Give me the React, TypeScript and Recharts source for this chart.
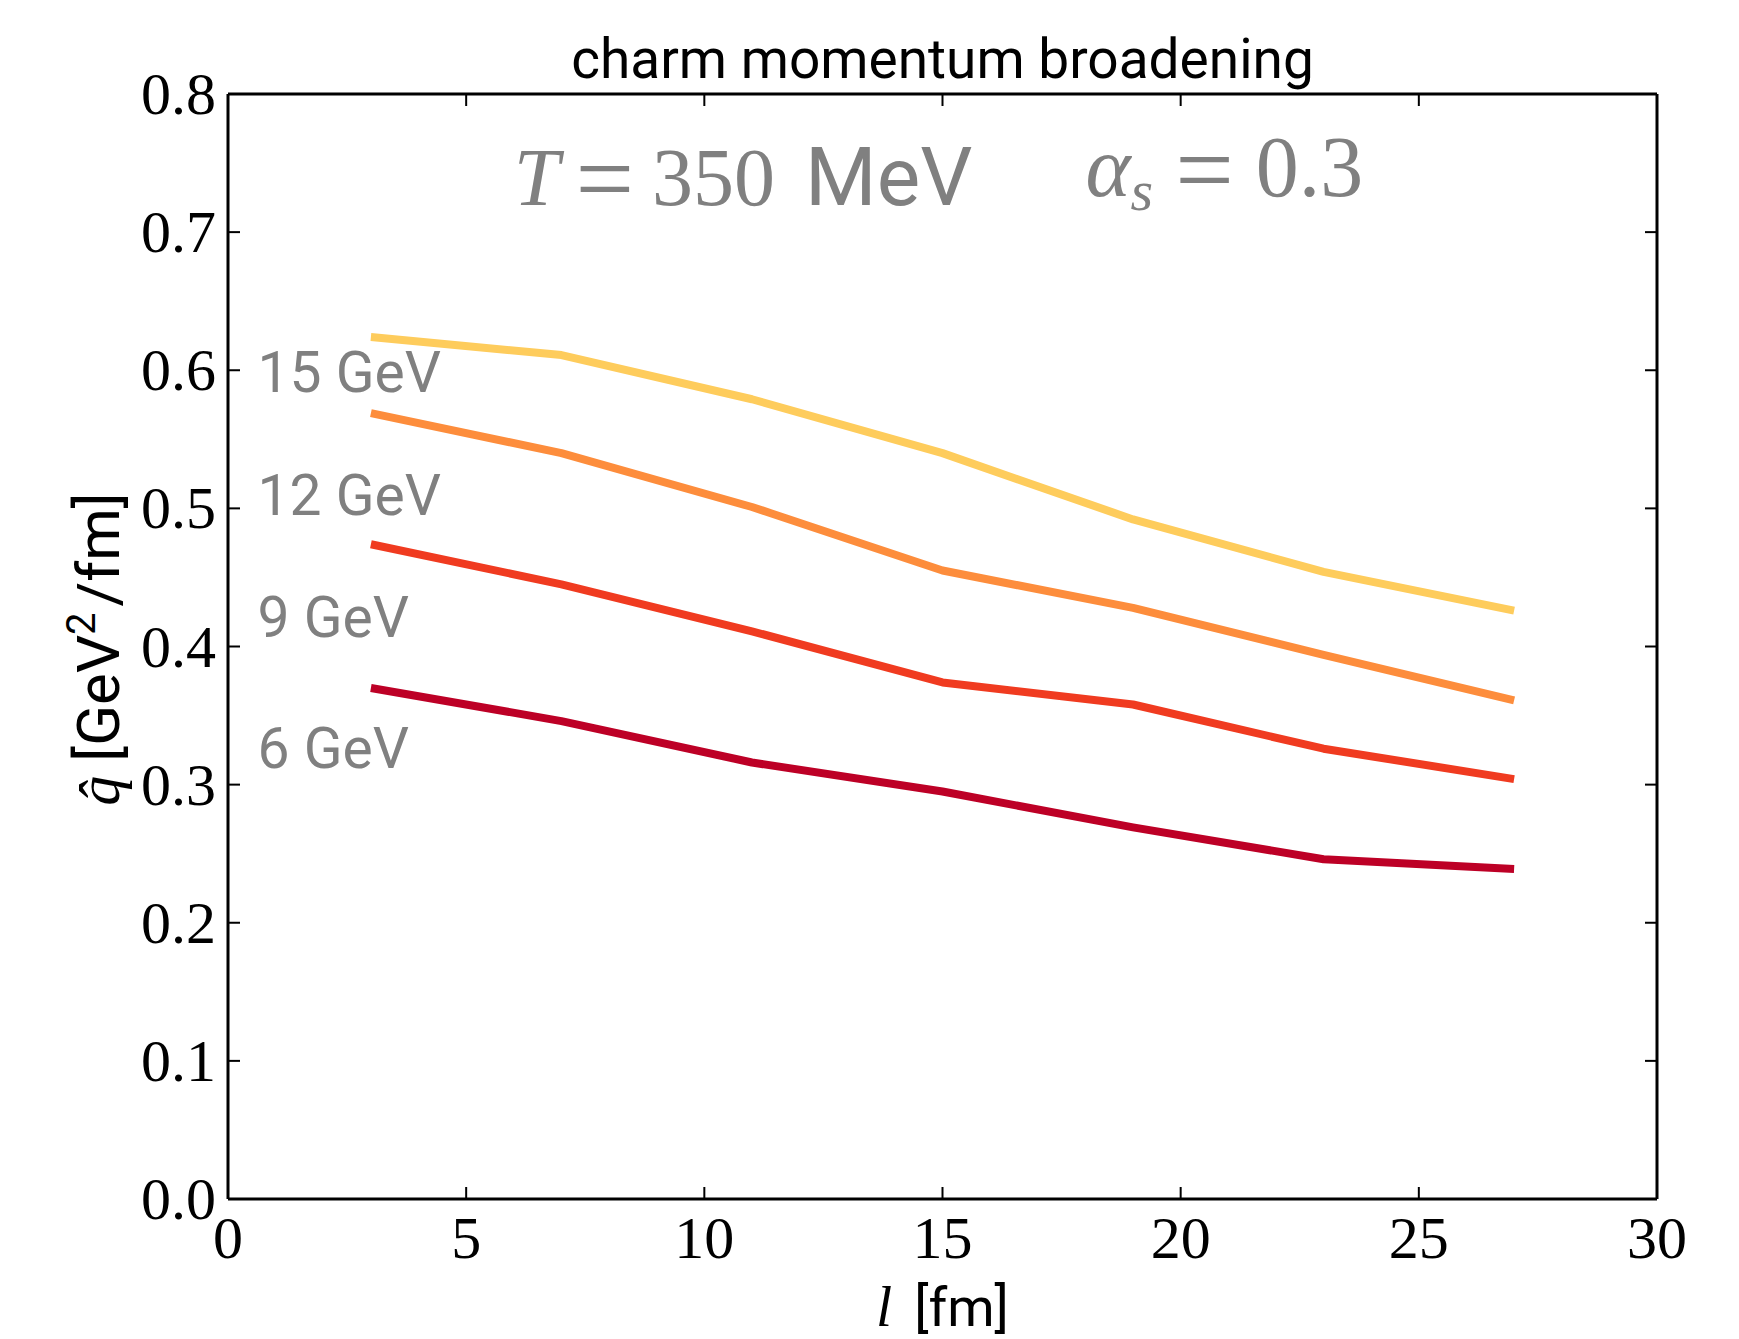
import React from 'react'
import { LineChart, Line, XAxis, YAxis, ReferenceDot, ReferenceLine } from 'recharts'

// path length l [fm]
const lengths = [3, 7, 11, 15, 19, 23, 27]

// qhat [GeV^2/fm] for each charm energy
const qhat6 = [0.370, 0.346, 0.316, 0.295, 0.269, 0.246, 0.239]
const qhat9 = [0.474, 0.445, 0.411, 0.374, 0.358, 0.326, 0.304]
const qhat12 = [0.569, 0.540, 0.501, 0.455, 0.428, 0.394, 0.361]
const qhat15 = [0.624, 0.611, 0.579, 0.540, 0.492, 0.454, 0.426]

const xTicks = [0, 5, 10, 15, 20, 25, 30]
const yTicks = [0, 0.1, 0.2, 0.3, 0.4, 0.5, 0.6, 0.7, 0.8]

// curve labels, anchored in data coordinates
const energyLabels = [
  { text: '15 GeV', x: 0.62, y: 0.584 },
  { text: '12 GeV', x: 0.62, y: 0.495 },
  { text: '9 GeV', x: 0.62, y: 0.407 },
  { text: '6 GeV', x: 0.62, y: 0.312 },
]

const series = [
  { key: 'e6', values: qhat6, color: '#bd0026' },
  { key: 'e9', values: qhat9, color: '#f03b20' },
  { key: 'e12', values: qhat12, color: '#fd8d3c' },
  { key: 'e15', values: qhat15, color: '#fecc5c' },
]

const data = lengths.map((l, i) => {
  const row: Record<string, number> = { l }
  series.forEach((s) => { row[s.key] = s.values[i] })
  return row
})

const SERIF = 'Liberation Serif'
const SANS = 'Roboto'
const GRAY = '#808080'
const TICK_LEN = 12
// plot box (chart margins + axis sizes below)
const BOX = { left: 228, right: 1657, top: 94, bottom: 1199 }
const spine = { stroke: '#000', strokeWidth: 3 }

// matplotlib-like ticks: pointing inward, mirrored on the opposite spine
const XTick = ({ x, payload }: any) => {
  const cx = payload.coordinate ?? x
  return (
    <g>
      <line x1={cx} x2={cx} y1={BOX.bottom} y2={BOX.bottom - TICK_LEN} stroke="#000" strokeWidth={2} />
      <line x1={cx} x2={cx} y1={BOX.top} y2={BOX.top + TICK_LEN} stroke="#000" strokeWidth={2} />
      <text x={cx} y={BOX.bottom + 59} textAnchor="middle" fontFamily={SERIF} fontSize={60} fill="#000">
        {payload.value}
      </text>
    </g>
  )
}

const YTick = ({ y, payload }: any) => {
  const cy = payload.coordinate ?? y
  return (
    <g>
      <line x1={BOX.left} x2={BOX.left + TICK_LEN} y1={cy} y2={cy} stroke="#000" strokeWidth={2} />
      <line x1={BOX.right} x2={BOX.right - TICK_LEN} y1={cy} y2={cy} stroke="#000" strokeWidth={2} />
      <text x={BOX.left - 12} y={cy + 20} textAnchor="end" fontFamily={SERIF} fontSize={60} fill="#000">
        {payload.value.toFixed(1)}
      </text>
    </g>
  )
}

const TitleLabel = ({ viewBox }: any) => (
  <text x={viewBox.x + viewBox.width / 2} y={BOX.top - 16} textAnchor="middle"
    fontFamily={SANS} fontSize={55} fill="#000">
    charm momentum broadening
  </text>
)

const XLabel = ({ viewBox }: any) => (
  <text x={viewBox.x + viewBox.width / 2} y={1326} textAnchor="middle" fill="#000" fontSize={54}>
    <tspan fontFamily={SERIF} fontStyle="italic" fontSize={58}>l</tspan>
    <tspan fontFamily={SANS} dx={22}>[fm]</tspan>
  </text>
)

const YLabel = () => (
  <text transform="translate(119, 649) rotate(-90)" textAnchor="middle" fill="#000" fontSize={60}>
    <tspan fontFamily={SERIF} fontStyle="italic">q̂</tspan>
    <tspan fontFamily={SANS} dx={14}>[GeV</tspan>
    <tspan fontFamily={SANS} fontSize={40} dy={-24}>2</tspan>
    <tspan fontFamily={SANS} dy={24} dx={6}>/fm]</tspan>
  </text>
)

const TempNote = ({ cx, cy }: any) => (
  <text x={cx} y={cy} fill={GRAY} fontSize={82}>
    <tspan fontFamily={SERIF} fontStyle="italic">T</tspan>
    <tspan fontFamily={SERIF} fontSize={104} dx={16} dy={9}>=</tspan>
    <tspan fontFamily={SERIF} dx={18} dy={-9}>350</tspan>
    <tspan fontFamily={SANS} dx={30}>MeV</tspan>
  </text>
)

const AlphaNote = ({ cx, cy }: any) => (
  <text x={cx} y={cy} fill={GRAY} fontSize={86} fontFamily={SERIF}>
    <tspan fontStyle="italic">α</tspan>
    <tspan fontStyle="italic" fontSize={58} dy={14}>s</tspan>
    <tspan dy={-5} dx={22} fontSize={104}>=</tspan>
    <tspan dx={22} dy={-9}>0.3</tspan>
  </text>
)

export default function App() {
  return (
    <div style={{ position: 'absolute', left: 0, top: 0, width: 1739, height: 1339, background: '#fff', overflow: 'hidden' }}>
      <LineChart width={1739} height={1339} data={data}
        margin={{ top: 94, right: 82, bottom: 80, left: 88 }}>
        <XAxis dataKey="l" type="number" domain={[0, 30]} ticks={xTicks} interval={0}
          axisLine={spine} tickLine={false} tickSize={0} height={60}
          tick={<XTick />} label={<XLabel />} />
        <YAxis type="number" domain={[0, 0.8]} ticks={yTicks} interval={0}
          axisLine={spine} tickLine={false} tickSize={0} width={140}
          tick={<YTick />} label={<YLabel />} />
        {/* top and right spines */}
        <ReferenceLine y={0.8} stroke="#000" strokeWidth={3} label={<TitleLabel />} />
        <ReferenceLine x={30} stroke="#000" strokeWidth={3} />
        {series.map((s) => (
          <Line key={s.key} dataKey={s.key} type="linear" stroke={s.color} strokeWidth={8}
            strokeLinejoin="round" dot={false} activeDot={false} isAnimationActive={false} />
        ))}
        {energyLabels.map((lab) => (
          <ReferenceDot key={lab.text} x={lab.x} y={lab.y} r={0}
            shape={(p: any) => (
              <text x={p.cx} y={p.cy} fill={GRAY} fontSize={57} fontFamily={SANS}>{lab.text}</text>
            )} />
        ))}
        <ReferenceDot x={6} y={0.72} r={0} shape={(p: any) => <TempNote {...p} />} />
        <ReferenceDot x={18} y={0.726} r={0} shape={(p: any) => <AlphaNote {...p} />} />
      </LineChart>
    </div>
  )
}
